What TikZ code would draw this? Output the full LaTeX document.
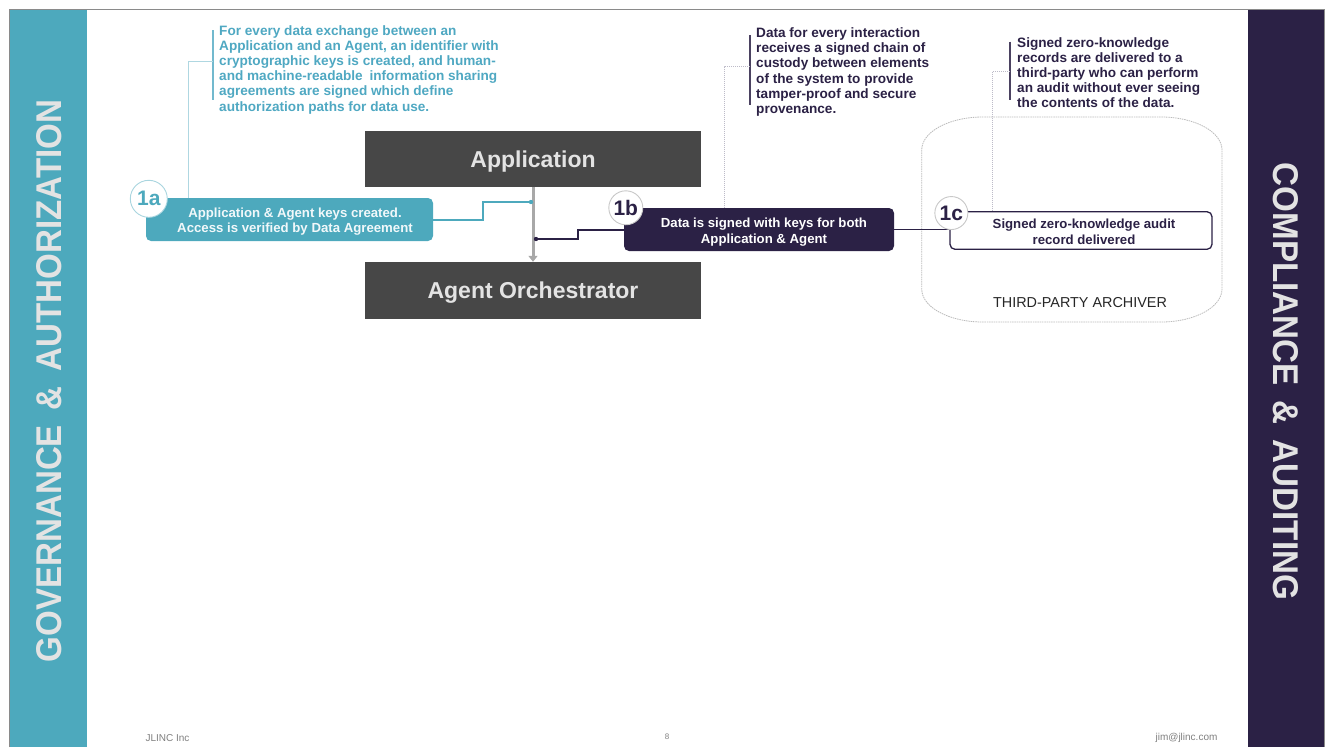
\documentclass[tikz,border=0pt]{standalone}
\usepackage{fontspec}
\setmainfont{Liberation Sans}
\usetikzlibrary{arrows.meta,calc}

\definecolor{govteal}{HTML}{4DA9BD}
\definecolor{audnavy}{HTML}{2B2145}
\definecolor{boxgrey}{HTML}{474747}
\definecolor{lightlabel}{HTML}{E3E3E3}
\definecolor{noteteal}{HTML}{4FA8C2}
\definecolor{leaderteal}{HTML}{AFD7E1}
\definecolor{leadergrey}{HTML}{BDBBC8}
\definecolor{ringgrey}{HTML}{C8C8C8}
\definecolor{ringteal}{HTML}{A9D5DF}
\definecolor{framegrey}{HTML}{8A8A8A}
\definecolor{footgrey}{HTML}{7F7F7F}
\definecolor{flowgrey}{HTML}{A8A8A8}
\definecolor{archgrey}{HTML}{BBBBBB}

\begin{document}
\begin{tikzpicture}[x=1pt,y=-1pt,
  component/.style={fill=boxgrey, text=lightlabel, minimum width=336pt, minimum height=56pt,
    inner sep=0pt, text depth=0pt, font=\fontsize{23}{27}\selectfont\bfseries},
  stepbox/.style={rounded corners=5pt, minimum height=43pt, inner sep=0pt},
  steptext/.style={align=center, inner sep=0pt, font=\fontsize{13.2}{15.5}\selectfont\bfseries},
  badge/.style={circle, fill=white, draw=ringgrey, line width=0.9pt, minimum size=34pt,
    inner sep=0pt, font=\fontsize{21}{21}\selectfont\bfseries},
  note/.style={anchor=north west, align=left, inner sep=0pt,
    font=\fontsize{13.6}{15.2}\selectfont\bfseries},
  notebar/.style={line width=1.6pt},
  leader/.style={line width=0.8pt},
  dotted leader/.style={line width=0.8pt, dash pattern=on 1.2pt off 0.8pt},
  sidebar/.style={text=lightlabel, inner sep=0pt, font=\bfseries},
  foot/.style={text=footgrey, inner sep=0pt, font=\fontsize{10}{12}\selectfont},
]

\useasboundingbox (0,0) rectangle (1325,747);

% slide frame and side bands
\fill[govteal] (10,10) rectangle (87,747);
\fill[audnavy] (1248,10) rectangle (1323.5,747);
\draw[framegrey, line width=1.2pt] (9.5,747) -- (9.5,9.5) -- (1324.5,9.5) -- (1324.5,747);

\node[sidebar, rotate=90] (govlabel) at (49.5,381)
  {\resizebox{562pt}{25pt}{GOVERNANCE\hspace{0.45em}\&\hspace{0.45em}AUTHORIZATION}};
\node[sidebar, rotate=-90] (audlabel) at (1285.5,381.5)
  {\resizebox{437pt}{25pt}{COMPLIANCE\hspace{0.45em}\&\hspace{0.45em}AUDITING}};

% archiver enclosure
\draw[archgrey, line width=0.8pt, dash pattern=on 1.5pt off 0.8pt]
  (921.7,150) -- (921.7,289)
  arc[start angle=180, end angle=90, x radius=61, y radius=33] -- (1161,322)
  arc[start angle=90, end angle=0, x radius=61, y radius=33] -- (1222,150)
  arc[start angle=0, end angle=-90, x radius=61, y radius=33] -- (982.7,117)
  arc[start angle=-90, end angle=-180, x radius=61, y radius=33] -- cycle;
\node[inner sep=0pt, text=black!85, font=\fontsize{14.4}{16}\selectfont] (archlabel)
  at (1080,303) {THIRD-PARTY ARCHIVER};

% main components
\node[component] (app) at (533,159) {Application};
\node[component, minimum height=57pt] (orch) at (533,290.5) {Agent Orchestrator};
\draw[flowgrey, line width=3pt, -{Triangle[length=6pt,width=9pt]}] (app.south) -- (orch.north);

% step boxes
\node[stepbox, fill=govteal, minimum width=287pt] (box1a) at (289.5,219.5) {};
\node[steptext, text=white!92!govteal] (txt1a) at (295,221.5)
  {Application \& Agent keys created.\\Access is verified by Data Agreement};

\node[stepbox, fill=audnavy, minimum width=270pt] (box1b) at (759,229.5) {};
\node[steptext, text=white] (txt1b) at (764,232)
  {Data is signed with keys for both\\Application \& Agent};

\node[stepbox, fill=white, draw=audnavy, line width=1.3pt, minimum width=262pt,
  minimum height=37.6pt] (box1c) at (1081,230.5) {};
\node[steptext, text=audnavy] (txt1c) at (1084,232)
  {Signed zero-knowledge audit\\record delivered};

% connectors into the flow
\coordinate (ta) at (483,202);
\coordinate (tdot) at (531,202);
\draw[govteal, line width=2pt] (box1a.east) -- (box1a.east -| ta) -- (ta) -- (tdot);
\fill[govteal] (tdot) circle (2.2pt);

\coordinate (nb) at (578,239);
\coordinate (ndot) at (536,239);
\draw[audnavy, line width=2pt] (box1b.west) -- (box1b.west -| nb) -- (nb) -- (ndot);
\fill[audnavy] (ndot) circle (2.2pt);

\draw[audnavy, line width=1.3pt] (box1b.east) -- (box1b.east -| box1c.west);

% callout notes
\node[note, text=noteteal] (note1a) at (219,25)
  {For every data exchange between an\\
   Application and an Agent, an identifier with\\
   cryptographic keys is created, and human-\\
   and machine-readable\hspace{3pt} information sharing\\
   agreements are signed which define\\
   authorization paths for data use.};
\draw[noteteal!80, notebar] (213,30) -- (213,100);
\coordinate (la) at (188,61);
\draw[leaderteal, leader] (213,61) -- (la) -- (la |- box1a.north);

\node[note, text=audnavy] (note1b) at (756,27.5)
  {Data for every interaction\\
   receives a signed chain of\\
   custody between elements\\
   of the system to provide\\
   tamper-proof and secure\\
   provenance.};
\draw[audnavy!85, notebar] (750,35) -- (750,105);
\coordinate (lb) at (724,66.7);
\draw[leadergrey, dotted leader] (750,66.7) -- (lb) -- (lb |- box1b.north);

\node[note, text=audnavy] (note1c) at (1017,37)
  {Signed zero-knowledge\\
   records are delivered to a\\
   third-party who can perform\\
   an audit without ever seeing\\
   the contents of the data.};
\draw[audnavy!85, notebar] (1010,41.7) -- (1010,100);
\coordinate (lc) at (992.7,71);
\draw[leadergrey, dotted leader] (1010,71) -- (lc) -- (lc |- box1c.north);

% step badges
\node[badge, draw=ringteal, text=govteal, minimum size=37pt] (b1a) at ($(box1a.north west)+(3,1)$) {1a};
\node[badge, text=audnavy] (b1b) at ($(box1b.north west)+(2,0)$) {1b};
\node[badge, text=audnavy, minimum size=33pt] (b1c) at ($(box1c.north west)+(2,2)$) {1c};

% footer
\node[foot] (company) at (167.5,738) {JLINC Inc};
\node[foot, font=\fontsize{8}{10}\selectfont] (pageno) at (667,737) {8};
\node[foot] (contact) at (1186.5,738) {jim@jlinc.com};

\end{tikzpicture}
\end{document}
